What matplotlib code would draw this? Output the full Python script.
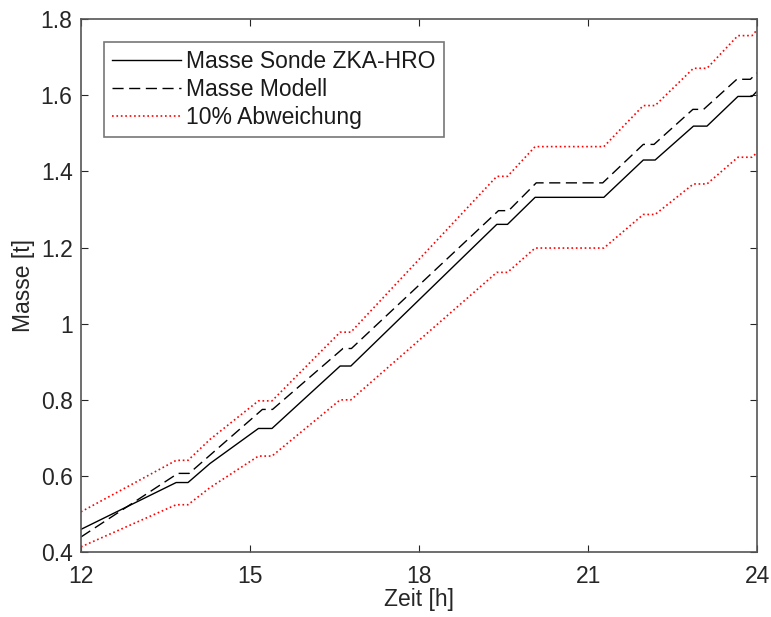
import matplotlib
matplotlib.use("Agg")
import matplotlib.pyplot as plt
import numpy as np

plt.rcParams['font.family'] = ['Liberation Sans', 'DejaVu Sans']

t_sonde = [12, 13.69, 13.90, 14.29, 15.15, 15.39, 16.60, 16.79, 19.38, 19.57,
           20.06, 21.28, 21.98, 22.19, 22.87, 23.11, 23.66, 23.91, 24]
m_sonde = [0.460, 0.583, 0.583, 0.633, 0.725, 0.725, 0.889, 0.889, 1.261, 1.261,
           1.332, 1.332, 1.430, 1.430, 1.519, 1.519, 1.597, 1.597, 1.611]

# Masse Modell
t_modell = [12, 13.72, 13.92, 15.22, 15.40, 16.65, 16.80, 19.41, 19.59,
            20.08, 21.26, 21.98, 22.17, 22.86, 23.05, 23.64, 23.88, 24]
m_modell = [0.440, 0.607, 0.607, 0.775, 0.775, 0.935, 0.935, 1.297, 1.297,
            1.370, 1.370, 1.471, 1.471, 1.563, 1.563, 1.642, 1.642, 1.659]

abweichung = 0.10
x_ticks = [12, 15, 18, 21, 24]
y_ticks = [0.4, 0.6, 0.8, 1, 1.2, 1.4, 1.6, 1.8]
y_ticklabels = ['0.4', '0.6', '0.8', '1', '1.2', '1.4', '1.6', '1.8']

grau = '#262626'
fs = 16.5

fig = plt.figure(figsize=(7.71, 6.17), dpi=100)
ax = fig.add_axes([0.105, 0.105, 0.877, 0.864])

m_sonde_arr = np.array(m_sonde)
ax.plot(t_sonde, m_sonde, color='black', lw=1.0, label='Masse Sonde ZKA-HRO')
ax.plot(t_modell, m_modell, color='black', lw=1.0, dashes=(8, 4), label='Masse Modell')
ax.plot(t_sonde, m_sonde_arr * (1 + abweichung), color='red', lw=1.2, ls=':',
        label='10% Abweichung')
ax.plot(t_sonde, m_sonde_arr * (1 - abweichung), color='red', lw=1.2, ls=':')

ax.set_xlim(12, 24)
ax.set_ylim(0.4, 1.8)
ax.set_xticks(x_ticks)
ax.set_yticks(y_ticks)
ax.set_yticklabels(y_ticklabels)

ax.tick_params(direction='in', length=5, width=0.8, top=True, right=True,
               labelsize=fs, colors=grau)
ax.tick_params(axis='x', pad=9)
ax.tick_params(axis='y', pad=6)
for sp in ax.spines.values():
    sp.set_color('#555555')
    sp.set_linewidth(1.2)

ax.set_xlabel('Zeit [h]', fontsize=fs, color=grau, labelpad=0)
ax.set_ylabel('Masse [t]', fontsize=fs, color=grau, labelpad=4)

leg = ax.legend(loc='upper left', fontsize=fs, frameon=True, fancybox=False,
                edgecolor='#555555', handlelength=3.0, handletextpad=0.25,
                labelspacing=0.22, borderaxespad=1.0, borderpad=0.35)
leg.get_frame().set_linewidth(1.2)
for txt in leg.get_texts():
    txt.set_color('#1a1a1a')

fig.savefig('out.png', dpi=100)
